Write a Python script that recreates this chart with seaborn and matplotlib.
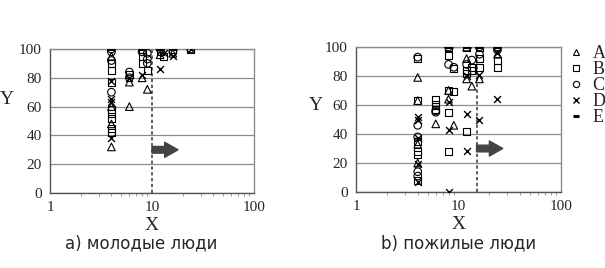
import matplotlib
matplotlib.use("Agg")
import matplotlib.pyplot as plt
import seaborn as sns
import pandas as pd
from matplotlib.lines import Line2D

series_names = ["A", "B", "C", "D", "E"]

# Panel a) young people
young_A_x = [4, 4, 4, 4, 6, 6, 8, 9, 12, 16]
young_A_y = [32, 48, 60, 95, 60, 77, 80, 72, 96, 97]
young_B_x = [4, 4, 4, 4, 4, 4, 4, 4, 6, 8, 8, 8, 9, 12, 13, 16, 24]
young_B_y = [42, 45, 52, 55, 58, 77, 85, 90, 82, 90, 95, 100, 85, 98, 95, 100, 100]
young_C_x = [4, 4, 4, 4, 6, 6, 8, 9, 9, 9, 12, 16, 24]
young_C_y = [70, 92, 98, 100, 80, 84, 98, 90, 93, 97, 100, 98, 100]
young_D_x = [4, 4, 4, 4, 6, 8, 12, 13, 16, 24]
young_D_y = [38, 63, 65, 78, 80, 82, 86, 97, 95, 100]
young_E_x = [4, 8, 12, 16]
young_E_y = [100, 100, 100, 100]

# Panel b) elderly people
old_A_x = [4, 4, 4, 4, 6, 8, 8, 9, 12, 12, 12, 13.5, 16, 24]
old_A_y = [79, 63, 33, 20, 47, 70, 64, 46, 92, 78, 100, 73, 78, 95]
old_B_x = [4, 4, 4, 4, 4, 4, 6, 6, 6, 8, 8, 8, 8, 9, 9, 12, 12, 12, 13.5, 13.5, 16, 16, 24, 24, 8, 12, 16]
old_B_y = [92, 63, 35, 28, 26, 8, 64, 60, 57, 94, 70, 55, 28, 85, 69, 84, 82, 42, 86, 84, 92, 86, 91, 86, 100, 100, 100]
old_C_x = [4, 4, 4, 4, 4, 6, 6, 8, 9, 12, 13.5, 16, 16, 24, 24, 8]
old_C_y = [93, 46, 38, 14, 11, 56, 55, 88, 86, 88, 91, 95, 100, 100, 98, 100]
old_D_x = [4, 4, 4, 4, 4, 8, 8, 8, 12, 12, 12, 16, 16, 24, 24]
old_D_y = [52, 50, 37, 19, 7, 62, 43, 0, 54, 28, 80, 81, 50, 64, 96]
old_E_x = [8, 12, 16, 24]
old_E_y = [100, 100, 100, 100]

thresholds = [10, 15]
captions = ["a) молодые люди", "b) пожилые люди"]


def make_df(xs, ys):
    rows = []
    for name, x, y in zip(series_names, xs, ys):
        for a, b in zip(x, y):
            rows.append({"series": name, "X": a, "Y": b})
    return pd.DataFrame(rows)


df_young = make_df([young_A_x, young_B_x, young_C_x, young_D_x, young_E_x],
                   [young_A_y, young_B_y, young_C_y, young_D_y, young_E_y])
df_old = make_df([old_A_x, old_B_x, old_C_x, old_D_x, old_E_x],
                 [old_A_y, old_B_y, old_C_y, old_D_y, old_E_y])

sns.set_theme(style="white")
plt.rcParams["font.family"] = ["DejaVu Sans"]
serif = "Liberation Serif"

markers = {"A": "^", "B": "s", "C": "o", "D": "x", "E": "_"}
msize = {"A": 30, "B": 26, "C": 30, "D": 24, "E": 30}

fig = plt.figure(figsize=(6.05, 2.68), dpi=100)
ax1 = fig.add_axes([50 / 605, 1 - 193 / 268, 204 / 605, 144 / 268])
ax2 = fig.add_axes([356 / 605, 1 - 192 / 268, 205 / 605, 145 / 268])

cap_x = [0.446, 0.50]
ylab_pos = [(-0.21, 0.646), (-0.195, 0.60)]

for i, (ax, df, thr, cap) in enumerate(zip([ax1, ax2], [df_young, df_old], thresholds, captions)):
    for name in series_names:
        sub = df[df["series"] == name]
        m = markers[name]
        if m in ("x", "_"):
            sns.scatterplot(data=sub, x="X", y="Y", marker=m, color="black",
                            s=msize[name], linewidth=1.0 if m == "x" else 2.2,
                            ax=ax, legend=False, zorder=3)
        else:
            sns.scatterplot(data=sub, x="X", y="Y", marker=m, facecolor="none",
                            edgecolor="black", s=msize[name], linewidth=0.8,
                            ax=ax, legend=False, zorder=3)
    ax.set_xscale("log")
    ax.set_xlim(1, 100)
    ax.set_ylim(0, 100)
    ax.set_yticks([0, 20, 40, 60, 80, 100])
    ax.set_xticks([1, 10, 100])
    ax.set_xticklabels(["1", "10", "100"])
    ax.yaxis.grid(True, color="#8c8c8c", linewidth=0.9)
    ax.xaxis.grid(False)
    for s in ax.spines.values():
        s.set_color("#8c8c8c")
        s.set_linewidth(1.0)
    ax.spines["left"].set_color("#555555")
    ax.spines["bottom"].set_color("#555555")
    ax.tick_params(axis="both", which="major", labelsize=11, length=0, pad=6)
    ax.tick_params(axis="x", which="minor", bottom=True, length=2, color="#888888", width=0.6)
    for lab in ax.get_xticklabels() + ax.get_yticklabels():
        lab.set_family(serif)
    ax.set_xlabel("X", family=serif, fontsize=14, labelpad=2)
    ax.set_ylabel("Y", family=serif, fontsize=14, rotation=0, va="center", ha="center")
    ax.yaxis.set_label_coords(*ylab_pos[i])
    ax.axvline(thr, color="#444444", linestyle=(0, (2, 1.5)), linewidth=1.2, zorder=2)
    ax.annotate("", xy=(thr * 1.8, 30), xytext=(thr, 30),
                arrowprops=dict(arrowstyle="simple,head_length=0.8,head_width=0.9,tail_width=0.4",
                                color="#444444", shrinkA=0, shrinkB=0), zorder=4)
    ax.text(cap_x[i], -0.29, cap, transform=ax.transAxes, ha="center", va="top", fontsize=12)

handles = []
for name in series_names:
    m = markers[name]
    if m in ("x", "_"):
        h = Line2D([], [], marker=m, linestyle="none", color="black", markersize=5,
                   markeredgewidth=1.0 if m == "x" else 2.2)
    else:
        h = Line2D([], [], marker=m, linestyle="none", markerfacecolor="none",
                   markeredgecolor="black", markersize=4.5, markeredgewidth=0.8)
    handles.append(h)
fig.legend(handles, series_names, loc="upper left", bbox_to_anchor=(568 / 605, 1 - 45 / 268),
           frameon=False, prop={"family": serif, "size": 13}, handlelength=0.9,
           handletextpad=0.45, labelspacing=-0.05, borderaxespad=0, borderpad=0)

fig.savefig("out.png", dpi=100)
